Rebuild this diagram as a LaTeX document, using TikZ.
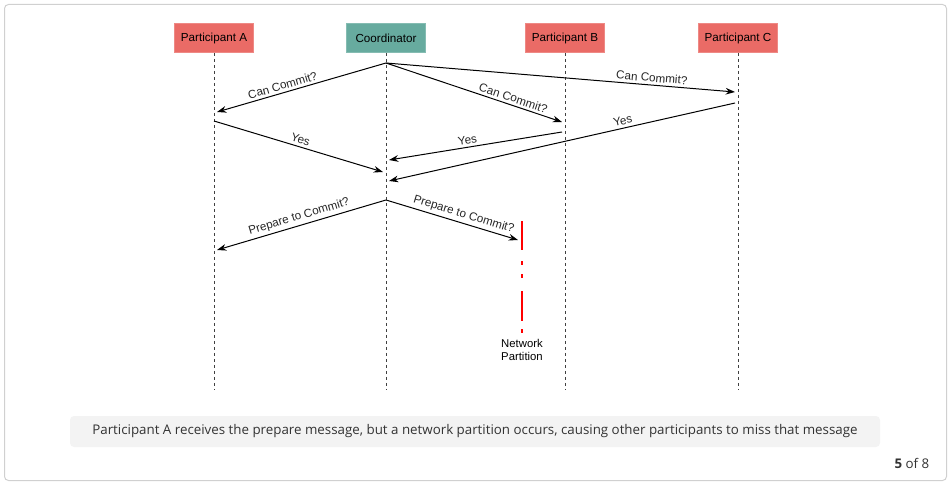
\documentclass[tikz,border=0pt]{standalone}
\usepackage{fontspec}
\setmainfont{Liberation Sans}
\newfontfamily\captionfont{Open Sans}
\usetikzlibrary{arrows.meta}

\definecolor{partyred}{HTML}{EA6B66}
\definecolor{coordgreen}{HTML}{67AB9F}
\definecolor{framegray}{HTML}{D0D0D0}
\definecolor{capgray}{HTML}{F3F3F3}
\definecolor{textgray}{HTML}{333333}

\begin{document}
\begin{tikzpicture}[x=0.75pt,y=-0.75pt,
			party node/.style={rectangle,fill=partyred,draw=partyred!80!white,minimum width=59.25pt,minimum height=21.75pt,font=\fontsize{8.75}{10}\selectfont},
			coord node/.style={party node,fill=coordgreen,draw=coordgreen!80!white},
			lifeline/.style={draw=black!75,line width=0.75pt,dash pattern=on 2.25pt off 2.25pt},
			msg/.style={-{Stealth[length=7pt,width=5pt]},line width=0.75pt},
			partition/.style={draw=red,line width=1.7pt,dash pattern=on 21.75pt off 8.25pt on 3pt off 6.75pt on 3pt off 9.75pt on 22.5pt off 6pt on 3pt}]

			\useasboundingbox (0,0) rectangle (951,485);
			\draw[framegray,line width=0.75pt,rounded corners=3pt] (4.5,4.5) rectangle (946.5,480.5);

			% participants
			\node[party node] (A) at (214,38) {Participant A};
			\node[coord node] (Co) at (386,38) {Coordinator};
			\node[party node] (B) at (565,38) {Participant B};
			\node[party node] (C) at (738,38) {Participant C};

			\foreach \p in {A,Co,B,C}
				\draw[lifeline] (\p.south) -- (\p.south |- 0,390);

			% points on the lifelines
			\coordinate (co1) at (386,63);
			\coordinate (a1) at (217,112);
			\coordinate (b1) at (562,122);
			\coordinate (c1) at (735,92);
			\coordinate (a2) at (214,121);
			\coordinate (b2) at (562,132);
			\coordinate (c2) at (735,103);
			\coordinate (co2) at (383,172);
			\coordinate (co3) at (389,160);
			\coordinate (co4) at (389,181);
			\coordinate (co5) at (386,200);
			\coordinate (a3) at (217,250);
			\coordinate (cut) at (518,240);

			\path[every node/.style={font=\fontsize{8.75}{10}\selectfont,text=black!85,sloped,above,inner sep=2pt}]
			(co1) edge [msg] node [pos=0.6] {Can Commit?} (a1)
			(co1) edge [msg] node [pos=0.76] {Can Commit?} (c1)
			(co1) edge [msg] node [pos=0.71] {Can Commit?} (b1)
			(a2) edge [msg] node [pos=0.5] {Yes} (co2)
			(b2) edge [msg] node [pos=0.54] {Yes} (co3)
			(c2) edge [msg] node [pos=0.32] {Yes} (co4)
			(co5) edge [msg] node [pos=0.5] {Prepare to Commit?} (a3)
			(co5) edge [msg] node [pos=0.57] {Prepare to Commit?} (cut);

			% network partition
			\coordinate (np top) at (522,221);
			\coordinate (np bot) at (522,333);
			\draw[partition] (np top) -- (np bot);
			\node[font=\fontsize{8.5}{9.75}\selectfont,align=center,below=1pt] (np) at (np bot) {Network\\Partition};

			% caption
			\node[fill=capgray,rounded corners=3pt,minimum width=607.5pt,minimum height=23.25pt,
				font=\captionfont\fontsize{10}{12}\selectfont,text=textgray] (cap) at (475,431.5)
				{Participant A receives the prepare message, but a network partition occurs, causing other participants to miss that message};
			\node[font=\captionfont\fontsize{10}{12}\selectfont,text=textgray,anchor=east] (page) at (934,463)
				{\textbf{5} of 8};
			\end{tikzpicture}
\end{document}
